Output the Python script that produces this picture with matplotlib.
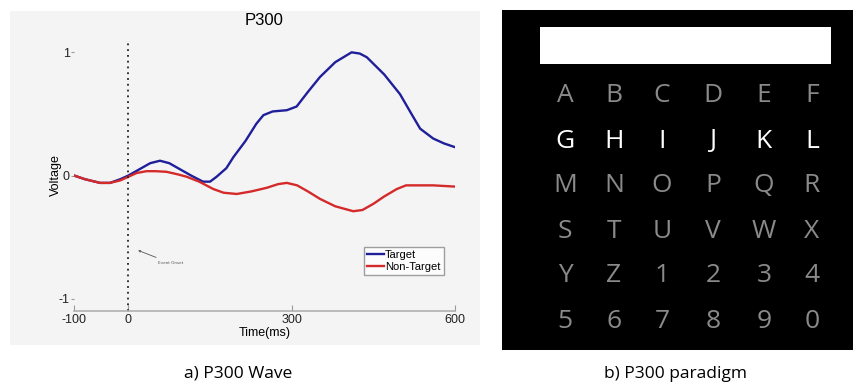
import matplotlib
matplotlib.use('Agg')
import matplotlib.pyplot as plt
from matplotlib.patches import Rectangle

plt.rcParams['axes.unicode_minus'] = False

# ---- data ----
target_t = [-100, -80, -52, -34, -15, 0, 20, 40, 58, 75, 95, 115, 137, 150, 162, 180, 193, 215,
            235, 248, 265, 291, 309, 330, 352, 380, 410, 425, 438, 470, 499, 520, 536, 560, 580, 600]
target_v = [0.0, -0.03, -0.06, -0.06, -0.03, 0.0, 0.05, 0.10, 0.12, 0.10, 0.05, 0.0, -0.05, -0.05, -0.01,
            0.06, 0.15, 0.28, 0.42, 0.49, 0.52, 0.53, 0.56, 0.68, 0.80, 0.92, 1.0, 0.99, 0.96, 0.82,
            0.66, 0.50, 0.38, 0.30, 0.26, 0.23]
nontarget_t = [-100, -80, -52, -34, -15, 0, 15, 33, 50, 70, 90, 107, 130, 156, 175, 199, 225, 254,
               275, 291, 310, 330, 352, 380, 413, 430, 450, 470, 493, 510, 530, 560, 600]
nontarget_v = [0.0, -0.03, -0.06, -0.06, -0.04, -0.01, 0.02, 0.035, 0.035, 0.03, 0.01, -0.01, -0.05,
               -0.11, -0.14, -0.15, -0.13, -0.10, -0.07, -0.06, -0.08, -0.13, -0.19, -0.25, -0.29,
               -0.28, -0.23, -0.17, -0.11, -0.08, -0.08, -0.08, -0.09]
x_ticks = [-100, 0, 300, 600]
y_ticks = [-1, 0, 1]

speller_rows = [['A', 'B', 'C', 'D', 'E', 'F'],
                ['G', 'H', 'I', 'J', 'K', 'L'],
                ['M', 'N', 'O', 'P', 'Q', 'R'],
                ['S', 'T', 'U', 'V', 'W', 'X'],
                ['Y', 'Z', '1', '2', '3', '4'],
                ['5', '6', '7', '8', '9', '0']]
highlight_row = 1

W, H = 854, 387
fig = plt.figure(figsize=(W / 100, H / 100), dpi=100)
fig.patch.set_facecolor('white')

# light gray panel behind the waveform plot
bg = fig.add_axes([10 / W, 1 - 345 / H, 470 / W, 334 / H], zorder=-5)
bg.set_facecolor('#f4f4f4')
bg.set_xticks([])
bg.set_yticks([])
for s in bg.spines.values():
    s.set_visible(False)

## left: P300 waveform
ax = fig.add_axes([74 / W, 1 - 311 / H, 381 / W, 271 / H])
ax.set_facecolor('none')
ax.plot(target_t, target_v, color='#1f1f9a', lw=1.7, label='Target')
ax.plot(nontarget_t, nontarget_v, color='#d42a2a', lw=1.7, label='Non-Target')
ax.axvline(0, color='#222222', ls=(0, (1, 2.2)), lw=1.3)
ax.set_xlim(-100, 600)
ax.set_ylim(-1.1, 1.1)
for s in ['top', 'right', 'left']:
    ax.spines[s].set_visible(False)
ax.spines['bottom'].set_color('#b0b0b0')
ax.spines['bottom'].set_linewidth(1.2)
ax.set_xticks(x_ticks)
ax.set_yticks(y_ticks)
ax.tick_params(axis='x', direction='in', length=4, color='#999999', labelsize=9, pad=2)
ax.tick_params(axis='y', direction='out', length=2, color='#999999', labelsize=9, pad=1)
for lbl in ax.get_xticklabels() + ax.get_yticklabels():
    lbl.set_fontfamily('Liberation Sans')
    lbl.set_color('#222222')
ax.set_title('P300', fontsize=12, family='Liberation Sans', pad=11)
ax.set_xlabel('Time(ms)', fontsize=9, family='Liberation Sans', labelpad=1)
ax.set_ylabel('Voltage', fontsize=9, family='Liberation Sans', labelpad=-2)
ax.annotate('Event Onset', xy=(13, -0.6), xytext=(55, -0.72), fontsize=3,
            color='#555555', arrowprops=dict(arrowstyle='->', color='#555555', lw=0.6))
leg = ax.legend(loc='lower right', bbox_to_anchor=(0.971, 0.133), borderaxespad=0,
                prop={'family': 'Liberation Sans', 'size': 8}, handlelength=1.5,
                handletextpad=0.1, borderpad=0.3, labelspacing=0.15, fancybox=False)
leg.get_frame().set_edgecolor('#888888')
leg.get_frame().set_facecolor('white')

## right: speller matrix
ax2 = fig.add_axes([502 / W, 1 - 350 / H, 352 / W, 340 / H])
ax2.set_facecolor('black')
ax2.set_xlim(0, 352)
ax2.set_ylim(340, 0)
ax2.set_xticks([])
ax2.set_yticks([])
for s in ax2.spines.values():
    s.set_visible(False)
ax2.add_patch(Rectangle((38, 17), 291, 37, facecolor='white', edgecolor='none'))
col_x = [63, 112, 160, 211, 262, 310]
row_y = [85, 131, 176, 221, 266, 312]
for r, row in enumerate(speller_rows):
    hl = r == highlight_row
    for c, ch in enumerate(row):
        ax2.text(col_x[c], row_y[r], ch, ha='center', va='center', fontsize=19,
                 family='Open Sans', color='white' if hl else '#8a8a8a')

fig.text(238 / W, 1 - 374 / H, 'a) P300 Wave', ha='center', va='center', fontsize=12.5, family='Open Sans')
fig.text(676 / W, 1 - 374 / H, 'b) P300 paradigm', ha='center', va='center', fontsize=12.5, family='Open Sans')

fig.savefig('out.png', dpi=100)
